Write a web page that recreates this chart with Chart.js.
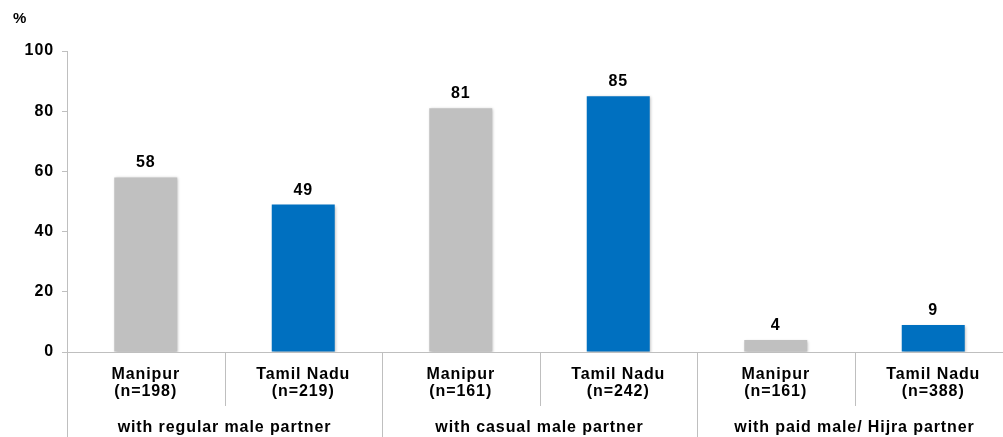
<!DOCTYPE html>
<html>
<head>
<meta charset="utf-8">
<script src="https://cdn.jsdelivr.net/npm/chart.js@4"></script>
<style>
  html, body { margin: 0; padding: 0; background: #fff; overflow: hidden; }
  #wrap { width: 1003px; height: 437px; overflow: hidden; }
</style>
</head>
<body>
<div id="wrap"><canvas id="partner-chart" width="1012" height="437"></canvas></div>
<script>
// Partner groups, each split into the two states
var partnerGroups = ['with regular male partner', 'with casual male partner', 'with paid male/ Hijra partner'];
var states = ['Manipur', 'Tamil Nadu'];
var sampleSizes = [198, 219, 161, 242, 161, 388];
var percentValues = [58, 49, 81, 85, 4, 9];
var stateColours = ['#C0C0C0', '#0070C0'];
var yTicks = [0, 20, 40, 60, 80, 100];

var FAMILY = '"Liberation Sans", Arial, sans-serif';
var FONT = 'bold 16px ' + FAMILY;
var SPACING = '0.9px';
var LINE = '#BFBFBF';

var barLabels = sampleSizes.map(function (n, i) {
    return [states[i % 2], '(n=' + n + ')'];
});
var barColours = percentValues.map(function (v, i) { return stateColours[i % 2]; });

// the slide text is set a little loose
var spacing = {
    id: 'spacing',
    beforeLayout: function (chart) { chart.ctx.letterSpacing = SPACING; },
    beforeDraw: function (chart) { chart.ctx.letterSpacing = SPACING; }
};

// value labels, group labels, divider lines and the "%" unit
var decorations = {
    id: 'decorations',
    beforeDatasetsDraw: function (chart) {
        chart.ctx.save();
        chart.ctx.shadowColor = 'rgba(0,0,0,0.28)';
        chart.ctx.shadowBlur = 3;
        chart.ctx.shadowOffsetX = 1;
        chart.ctx.shadowOffsetY = 1;
    },
    afterDatasetsDraw: function (chart) {
        chart.ctx.restore();
    },
    afterDraw: function (chart) {
        var ctx = chart.ctx;
        var x = chart.scales.x;
        var y = chart.scales.y;
        var step = x.getPixelForValue(1) - x.getPixelForValue(0);
        var base = y.getPixelForValue(0);
        ctx.save();
        ctx.letterSpacing = SPACING;

        // dividers under the axis
        ctx.strokeStyle = LINE;
        ctx.lineWidth = 1;
        for (var i = 0; i <= percentValues.length; i++) {
            var bx = Math.round(x.getPixelForValue(i) - step / 2) + 0.5;
            var end = (i % 2 === 0) ? chart.height : base + 54;
            ctx.beginPath();
            ctx.moveTo(bx, base);
            ctx.lineTo(bx, end);
            ctx.stroke();
        }

        ctx.fillStyle = '#000';
        ctx.font = FONT;
        ctx.textAlign = 'center';

        // group names
        ctx.textBaseline = 'alphabetic';
        partnerGroups.forEach(function (g, k) {
            var cx = (x.getPixelForValue(2 * k) + x.getPixelForValue(2 * k + 1)) / 2;
            ctx.fillText(g, cx, 432);
        });

        // values above bars
        chart.getDatasetMeta(0).data.forEach(function (bar, i) {
            ctx.fillText(percentValues[i], bar.x, bar.y - 10);
        });

        ctx.textAlign = 'left';
        ctx.textBaseline = 'middle';
        ctx.font = 'bold 15px ' + FAMILY;
        ctx.fillText('%', 13, 19);
        ctx.restore();
    }
};

new Chart(document.getElementById('partner-chart'), {
    type: 'bar',
    data: {
        labels: barLabels,
        datasets: [{
            data: percentValues,
            backgroundColor: barColours,
            borderWidth: 0,
            categoryPercentage: 1,
            barPercentage: 0.4
        }]
    },
    options: {
        responsive: false,
        animation: false,
        devicePixelRatio: 1,
        layout: { padding: { top: 51, right: 0, bottom: 0, left: 0 } },
        plugins: {
            legend: { display: false },
            tooltip: { enabled: false }
        },
        scales: {
            x: {
                grid: { display: false },
                border: { display: true, color: LINE, width: 1 },
                ticks: {
                    color: '#000',
                    font: { family: FAMILY, size: 16, weight: 'bold', lineHeight: '17px' },
                    padding: 6,
                    maxRotation: 0,
                    autoSkip: false
                },
                afterFit: function (s) { s.height = 85; }
            },
            y: {
                min: 0,
                max: 100,
                afterBuildTicks: function (s) {
                    s.ticks = yTicks.map(function (v) { return { value: v }; });
                },
                grid: { drawOnChartArea: false, drawTicks: true, tickLength: 5, color: LINE },
                border: { display: true, color: LINE, width: 1 },
                ticks: {
                    color: '#000',
                    font: { family: FAMILY, size: 16, weight: 'bold' },
                    padding: 8
                },
                afterFit: function (s) { s.width = 67; }
            }
        }
    },
    plugins: [spacing, decorations]
});
</script>
</body>
</html>
